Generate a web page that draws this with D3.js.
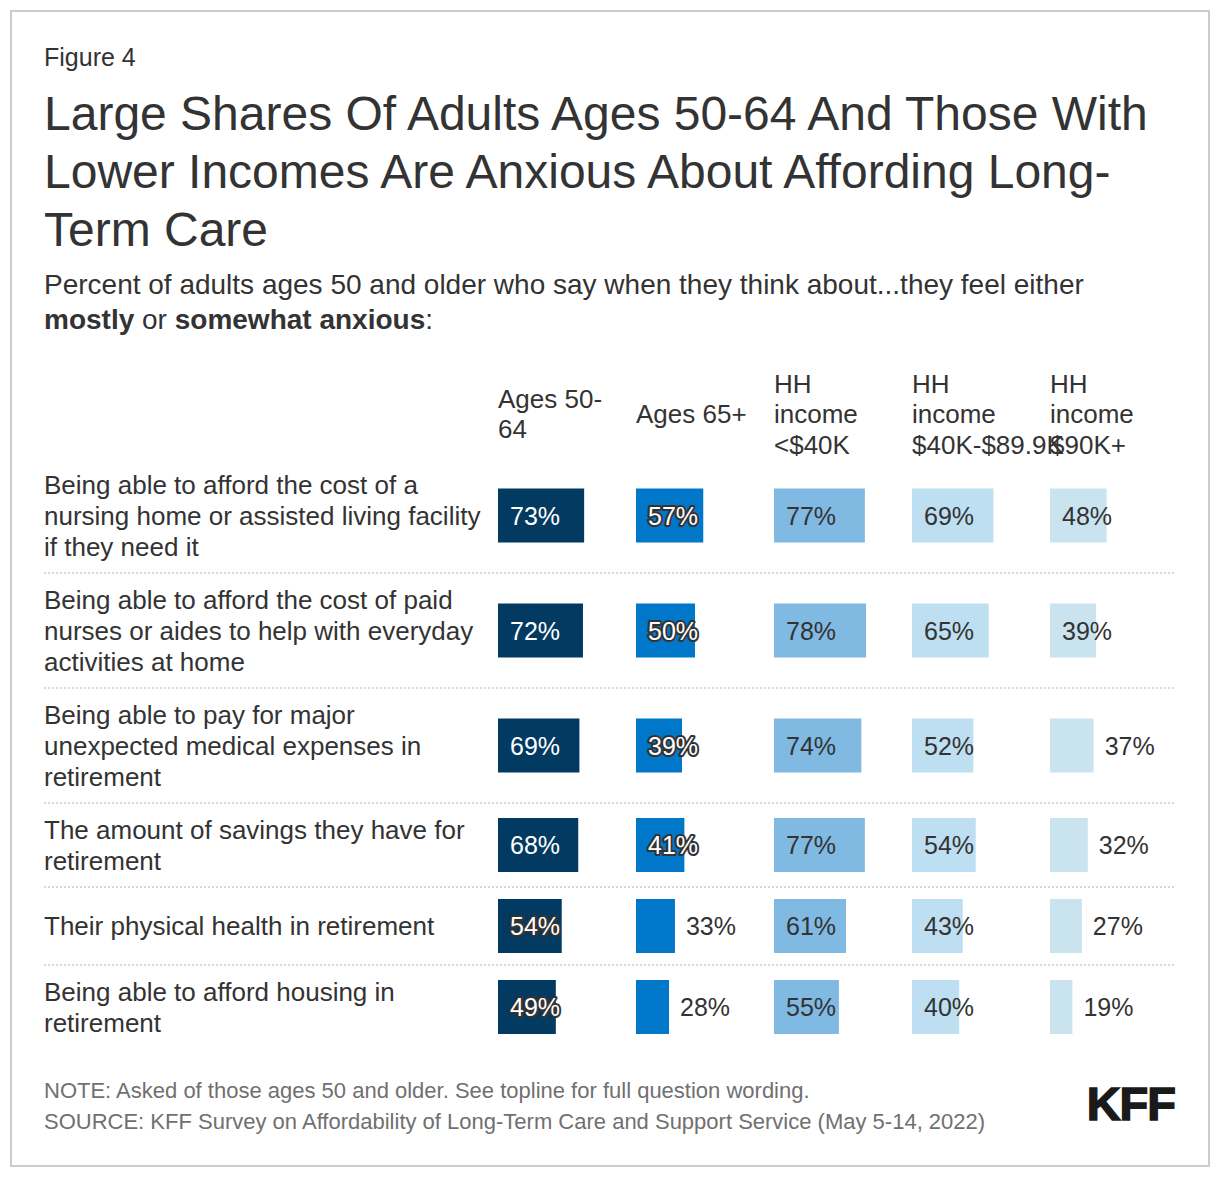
<!DOCTYPE html>
<html><head><meta charset="utf-8">
<script src="https://cdn.jsdelivr.net/npm/d3@7"></script>
<style>
body{margin:0;background:#fff;}
svg text{font-family:"Liberation Sans",Arial,Helvetica,sans-serif;}
</style></head>
<body><svg id="c" width="1220" height="1178"></svg>
<script>
const categories = [
  "Being able to afford the cost of a\nnursing home or assisted living facility\nif they need it",
  "Being able to afford the cost of paid\nnurses or aides to help with everyday\nactivities at home",
  "Being able to pay for major\nunexpected medical expenses in\nretirement",
  "The amount of savings they have for\nretirement",
  "Their physical health in retirement",
  "Being able to afford housing in\nretirement"
];
const seriesNames = ["Ages 50-\n64", "Ages 65+", "HH\nincome\n<$40K", "HH\nincome\n$40K-$89.9K", "HH\nincome\n$90K+"];
const ages5064 = [73, 72, 69, 68, 54, 49];
const ages65 = [57, 50, 39, 41, 33, 28];
const incLow = [77, 78, 74, 77, 61, 55];
const incMid = [69, 65, 52, 54, 43, 40];
const incHigh = [48, 39, 37, 32, 27, 19];
const series = [ages5064, ages65, incLow, incMid, incHigh];
const colors = ["#023a62", "#0077c8", "#80b9e2", "#bedef1", "#cae4ef"];

const svg = d3.select("#c");
const txt = "#333";

// frame
svg.append("rect").attr("x",11).attr("y",11).attr("width",1198).attr("height",1155)
  .attr("fill","none").attr("stroke","#ccc").attr("stroke-width",2);

svg.append("text").attr("x",44).attr("y",66).attr("font-size",25).attr("fill",txt).text("Figure 4");

const titleLines = ["Large Shares Of Adults Ages 50-64 And Those With","Lower Incomes Are Anxious About Affording Long-","Term Care"];
svg.append("g").selectAll("text").data(titleLines).join("text")
  .attr("x",44).attr("y",(d,i)=>130+i*58).attr("font-size",48).attr("fill",txt).text(d=>d);

const sub1 = svg.append("text").attr("x",44).attr("y",294).attr("font-size",28).attr("fill",txt)
  .text("Percent of adults ages 50 and older who say when they think about...they feel either");
const sub2 = svg.append("text").attr("x",44).attr("y",329).attr("font-size",28).attr("fill",txt);
sub2.append("tspan").attr("font-weight","bold").text("mostly");
sub2.append("tspan").text(" or ");
sub2.append("tspan").attr("font-weight","bold").text("somewhat anxious");
sub2.append("tspan").text(":");

// columns
const colX = d3.scaleLinear().domain([0,1]).range([498,636]);
const w = d3.scaleLinear().domain([0,100]).range([0,118]);
const lh = 30.5;

seriesNames.forEach((name,i)=>{
  const lines = name.split("\n");
  const t = svg.append("text").attr("font-size",26).attr("fill",txt);
  const y0 = 423 - (lines.length-1)*lh/2;
  lines.forEach((l,j)=>t.append("tspan").attr("x",colX(i)).attr("y",y0+j*lh).text(l));
});

// rows
const rowLines = categories.map(c=>c.split("\n"));
const rowH = rowLines.map(l=>Math.max(l.length*31+22, 78));
let yTop = 458;
const rows = rowLines.map((l,i)=>{const r={top:yTop,h:rowH[i],lines:l}; yTop+=rowH[i]; return r;});

const barH = 54;
rows.forEach((r,ri)=>{
  const cy = r.top + r.h/2;
  const t = svg.append("text").attr("font-size",26).attr("fill",txt);
  const y0 = cy + 9 - (r.lines.length-1)*31/2;
  r.lines.forEach((l,j)=>t.append("tspan").attr("x",44).attr("y",y0+j*31).text(l));
  if(ri < rows.length-1){
    svg.append("line").attr("x1",44).attr("x2",1175).attr("y1",r.top+r.h).attr("y2",r.top+r.h)
      .attr("stroke","#ccc").attr("stroke-width",1.5).attr("stroke-dasharray","2,2");
  }
  series.forEach((s,si)=>{
    const v = s[ri];
    const x0 = colX(si);
    svg.append("rect").attr("x",x0).attr("y",cy-barH/2).attr("width",w(v)).attr("height",barH).attr("fill",colors[si]);
    const inside = v >= 38;
    const lab = svg.append("text").attr("font-size",25).attr("y",cy+9).text(v+"%");
    if(inside){
      lab.attr("x",x0+12);
      if(si<2){
        lab.attr("fill","#fff");
        if(v<60){
          lab.attr("stroke","#333").attr("stroke-width",4).attr("stroke-linejoin","round").attr("paint-order","stroke");
        }
      } else lab.attr("fill",txt);
    } else {
      lab.attr("x",x0+w(v)+11).attr("fill",txt);
    }
  });
});

svg.append("text").attr("x",44).attr("y",1098).attr("font-size",22).attr("fill","#707070")
  .text("NOTE: Asked of those ages 50 and older. See topline for full question wording.");
svg.append("text").attr("x",44).attr("y",1129).attr("font-size",22).attr("fill","#707070")
  .text("SOURCE: KFF Survey on Affordability of Long-Term Care and Support Service (May 5-14, 2022)");
svg.append("text").attr("x",1175).attr("y",1120).attr("text-anchor","end").attr("font-size",47)
  .attr("font-weight","bold").attr("fill","#1a1a1a").attr("stroke","#1a1a1a").attr("stroke-width",1.5)
  .attr("letter-spacing",-1).text("KFF");
</script></body></html>
